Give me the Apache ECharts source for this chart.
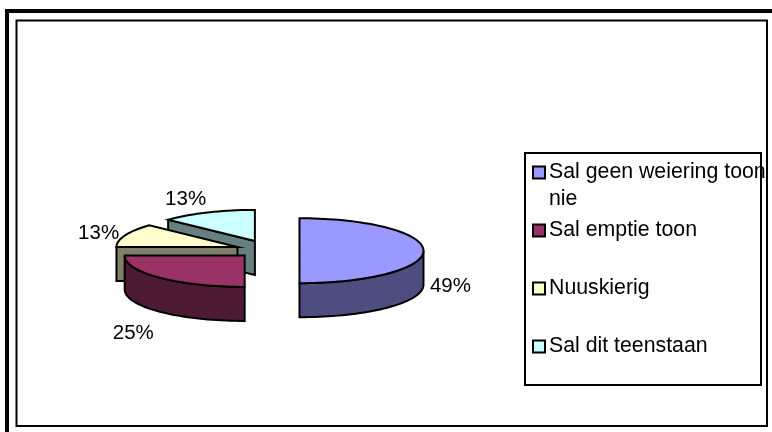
<!DOCTYPE html>
<html><head><meta charset="utf-8">
<style>html,body{margin:0;padding:0;background:#fff}#c{width:772px;height:432px}</style>
<script src="https://cdn.jsdelivr.net/npm/echarts@6/dist/echarts.min.js"></script>
</head><body><div id="c"></div>
<script>
var categories = ['Sal geen weiering toon nie', 'Sal emptie toon', 'Nuuskierig', 'Sal dit teenstaan'];
var values = [49, 25, 13, 13];
var topColors = ['#9999ff', '#993366', '#ffffcc', '#ccffff'];
var wallColors = ['#4d4d80', '#4d1a33', '#808066', '#668080'];

// Pie geometry (styling of the flattened, exploded 3D pie)
var PIE = {cx: 266.5, cy: 249, radius: [124, 120, 121, 119], tilt: 0.262, depth: 34, explode: 33,
  shift: [[0, 2], [0, 0], [2, 1], [1.5, 0]]};
var LABEL_NUDGE = [[27, 37], [-32, 54], [-25, -3], [-22, -13]];
var SNAP = 4 * Math.PI / 180; // cut lines this close to an axis are drawn on the axis

var total = values.reduce(function (a, b) { return a + b; }, 0);
var starts = [], acc = 0;
values.forEach(function (v) { starts.push(acc / total * Math.PI * 2); acc += v; });

function snap(a) {
  var q = Math.round(a / (Math.PI / 2)) * (Math.PI / 2);
  return Math.abs(a - q) < SNAP ? q : a;
}

function renderSlice(i) {
  var raw0 = starts[i], raw1 = raw0 + values[i] / total * Math.PI * 2, rawMid = (raw0 + raw1) / 2;
  var a0 = snap(raw0), a1 = snap(raw1);
  var r = PIE.radius[i], t = PIE.tilt, d = PIE.depth;
  var cx = PIE.cx + PIE.explode * Math.sin(rawMid) + PIE.shift[i][0];
  var cy = PIE.cy - PIE.explode * t * Math.cos(rawMid) + PIE.shift[i][1];
  function rim(a) { return [cx + r * Math.sin(a), cy - r * t * Math.cos(a)]; }
  function down(p) { return [p[0], p[1] + d]; }
  function arc(from, to) {
    var pts = [], n = Math.max(2, Math.ceil((to - from) / 0.04));
    for (var k = 0; k <= n; k++) pts.push(rim(from + (to - from) * k / n));
    return pts;
  }
  function poly(points, fill) {
    return {type: 'polygon', shape: {points: points},
      style: {fill: fill, stroke: '#000', lineWidth: 2, lineJoin: 'miter'}};
  }
  var kids = [], c = [cx, cy];
  // Radial cut faces that turn toward the viewer
  [[a0, a0 - Math.PI / 2], [a1, a1 + Math.PI / 2]].forEach(function (f) {
    if (Math.cos(f[1]) < -0.01) {
      var p = rim(f[0]);
      kids.push(poly([c, p, down(p), down(c)], wallColors[i]));
    }
  });
  // Outer wall: the part of the rim facing front
  var w0 = Math.max(a0, Math.PI / 2), w1 = Math.min(a1, Math.PI * 1.5);
  if (w1 > w0) {
    var top = arc(w0, w1);
    kids.push(poly(top.concat(top.slice().reverse().map(down)), wallColors[i]));
  }
  kids.push(poly([c].concat(arc(a0, a1)), topColors[i]));
  var lp = rim(rawMid);
  kids.push({type: 'text', style: {
    x: lp[0] + LABEL_NUDGE[i][0], y: lp[1] + LABEL_NUDGE[i][1],
    text: values[i] + '%', fill: '#000', align: 'center', verticalAlign: 'middle',
    font: '20.5px "Liberation Sans", Arial, sans-serif'}, z2: 50});
  return {type: 'group', children: kids};
}

var drawOrder = values.map(function (v, i) {
  var mid = starts[i] + v / total * Math.PI;
  return -Math.cos(mid);
});

var option = {
  animation: false,
  backgroundColor: '#fff',
  color: topColors,
  legend: {
    orient: 'vertical', left: 532, top: 132, padding: 0, selectedMode: false,
    itemWidth: 12, itemHeight: 12, itemGap: -23,
    data: categories.map(function (n, i) {
      return {name: n, icon: 'rect', itemStyle: {color: topColors[i], borderColor: '#000', borderWidth: 2}};
    }),
    formatter: function (name) {
      var m = name.match(/^(.*) (nie)$/);
      return m ? '\n' + m[1] + '\n' + m[2] : '\n' + name + '\n ';
    },
    textStyle: {fontFamily: '"Liberation Sans", Arial, sans-serif', fontSize: 21.3, color: '#000', lineHeight: 27, padding: [0, 0, 0, -1]}
  },
  graphic: [
    {type: 'polyline', silent: true, z: -1, shape: {points: [[7, 432], [7, 11], [772, 11]]}, style: {fill: null, stroke: '#000', lineWidth: 4}},
    {type: 'rect', silent: true, z: -1, shape: {x: 16.5, y: 20.5, width: 750.5, height: 405.5}, style: {fill: null, stroke: '#000', lineWidth: 2}},
    {type: 'rect', silent: true, z: -1, shape: {x: 525, y: 153, width: 236, height: 232}, style: {fill: '#fff', stroke: '#000', lineWidth: 2}}
  ],
  series: categories.map(function (name, i) {
    return {
      type: 'custom', name: name, coordinateSystem: 'none', silent: true,
      z: 5 + Math.round((drawOrder[i] + 1) * 5),
      itemStyle: {color: topColors[i]},
      data: [values[i]],
      renderItem: function () { return renderSlice(i); }
    };
  })
};
echarts.init(document.getElementById('c'), null, {renderer: 'canvas'}).setOption(option);
</script></body></html>
